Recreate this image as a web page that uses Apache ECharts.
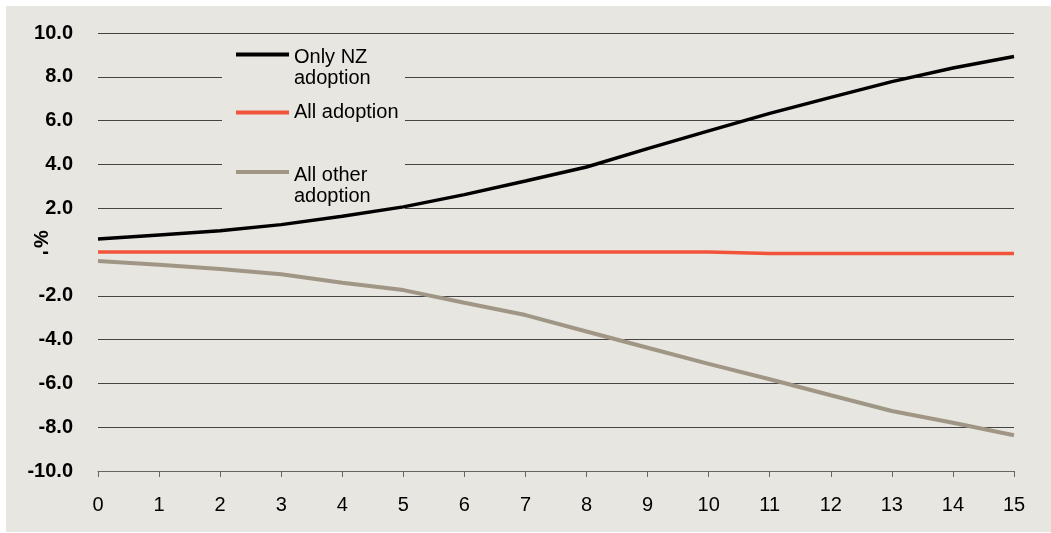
<!DOCTYPE html>
<html><head><meta charset="utf-8">
<script src="https://cdn.jsdelivr.net/npm/echarts@6/dist/echarts.min.js"></script>
<style>html,body{margin:0;padding:0;background:#fff;width:1051px;height:533px;overflow:hidden}
#c{position:absolute;left:6px;top:6px;width:1045px;height:526px}</style>
</head><body><div id="c"></div><script>
const categories = ['0','1','2','3','4','5','6','7','8','9','10','11','12','13','14','15'];
const onlyNZ = [0.59, 0.78, 0.97, 1.25, 1.63, 2.06, 2.62, 3.24, 3.88, 4.72, 5.53, 6.33, 7.06, 7.78, 8.40, 8.93];
const allAdoption = [0, 0, 0, 0, 0, 0, 0, 0, 0, 0, 0, -0.07, -0.07, -0.07, -0.07, -0.07];
const allOther = [-0.41, -0.58, -0.78, -1.02, -1.40, -1.74, -2.32, -2.88, -3.63, -4.37, -5.11, -5.81, -6.54, -7.26, -7.80, -8.37];
const seriesNames = ['Only NZ adoption', 'All adoption', 'All other adoption'];
const legendLabels = {
  'Only NZ adoption': '{s| }\n{a|Only NZ}\n{a|adoption}',
  'All adoption': '{a|All adoption}',
  'All other adoption': '{s| }\n{a|All other}\n{a|adoption}'
};
const yTicks = {min: -10, max: 10, interval: 2};

const BG = '#e8e6e0';
const FONT = "'Liberation Sans', Arial, sans-serif";
const chart = echarts.init(document.getElementById('c'));
function mkLegend(name, top) {
  return {
    data: [name], top: top, left: 230, orient: 'vertical', padding: 0,
    itemWidth: 53, itemHeight: 4, icon: 'rect', selectedMode: false,
    formatter: n => legendLabels[n],
    textStyle: {fontFamily: FONT, fontSize: 20, color: '#000', lineHeight: 21,
      rich: {
        s: {fontSize: 2, lineHeight: 27},
        a: {fontFamily: FONT, fontSize: 20, color: '#000', lineHeight: 21}
      }}
  };
}
chart.setOption({
  animation: false,
  backgroundColor: BG,
  grid: {left: 92, right: 37, top: 27, bottom: 61, containLabel: false, outerBoundsMode: 'none'},
  graphic: [{type: 'rect', z: 1, shape: {x: 216, y: 36, width: 183, height: 172}, style: {fill: BG}}],
  legend: [mkLegend(seriesNames[0], 14), mkLegend(seriesNames[1], 96), mkLegend(seriesNames[2], 131.5)],
  xAxis: {
    type: 'category', data: categories, boundaryGap: false,
    axisLine: {onZero: false, lineStyle: {color: '#666', width: 1}},
    axisTick: {show: true, length: 6, lineStyle: {color: '#666'}},
    axisLabel: {fontFamily: FONT, fontSize: 20, color: '#000', margin: 24},
    splitLine: {show: false}
  },
  yAxis: {
    type: 'value', min: yTicks.min, max: yTicks.max, interval: yTicks.interval,
    name: '%', nameLocation: 'middle', nameRotate: 90, nameGap: 46, nameMoveOverlap: false,
    nameTextStyle: {fontFamily: FONT, fontSize: 20, fontWeight: 'bold', color: '#000', padding: [0, 0, 0, 26]},
    axisLine: {show: false}, axisTick: {show: false},
    axisLabel: {fontFamily: FONT, fontSize: 20, fontWeight: 'bold', color: '#000', margin: 25,
      formatter: v => v === 0 ? '{z|-}' : v.toFixed(1),
      rich: {z: {fontFamily: FONT, fontSize: 20, fontWeight: 'bold', color: '#000', padding: [0, 24, 0, 0]}}},
    splitLine: {show: true, lineStyle: {color: '#444', width: 1}}
  },
  series: [
    {name: seriesNames[0], type: 'line', data: onlyNZ, symbol: 'none', color: '#000', lineStyle: {width: 3.5, color: '#000'}, z: 3},
    {name: seriesNames[1], type: 'line', data: allAdoption, symbol: 'none', color: '#f0553b', lineStyle: {width: 3.5, color: '#f0553b'}, z: 3},
    {name: seriesNames[2], type: 'line', data: allOther, symbol: 'none', color: '#a09685', lineStyle: {width: 4, color: '#a09685'}, z: 3}
  ]
});
</script></body></html>
